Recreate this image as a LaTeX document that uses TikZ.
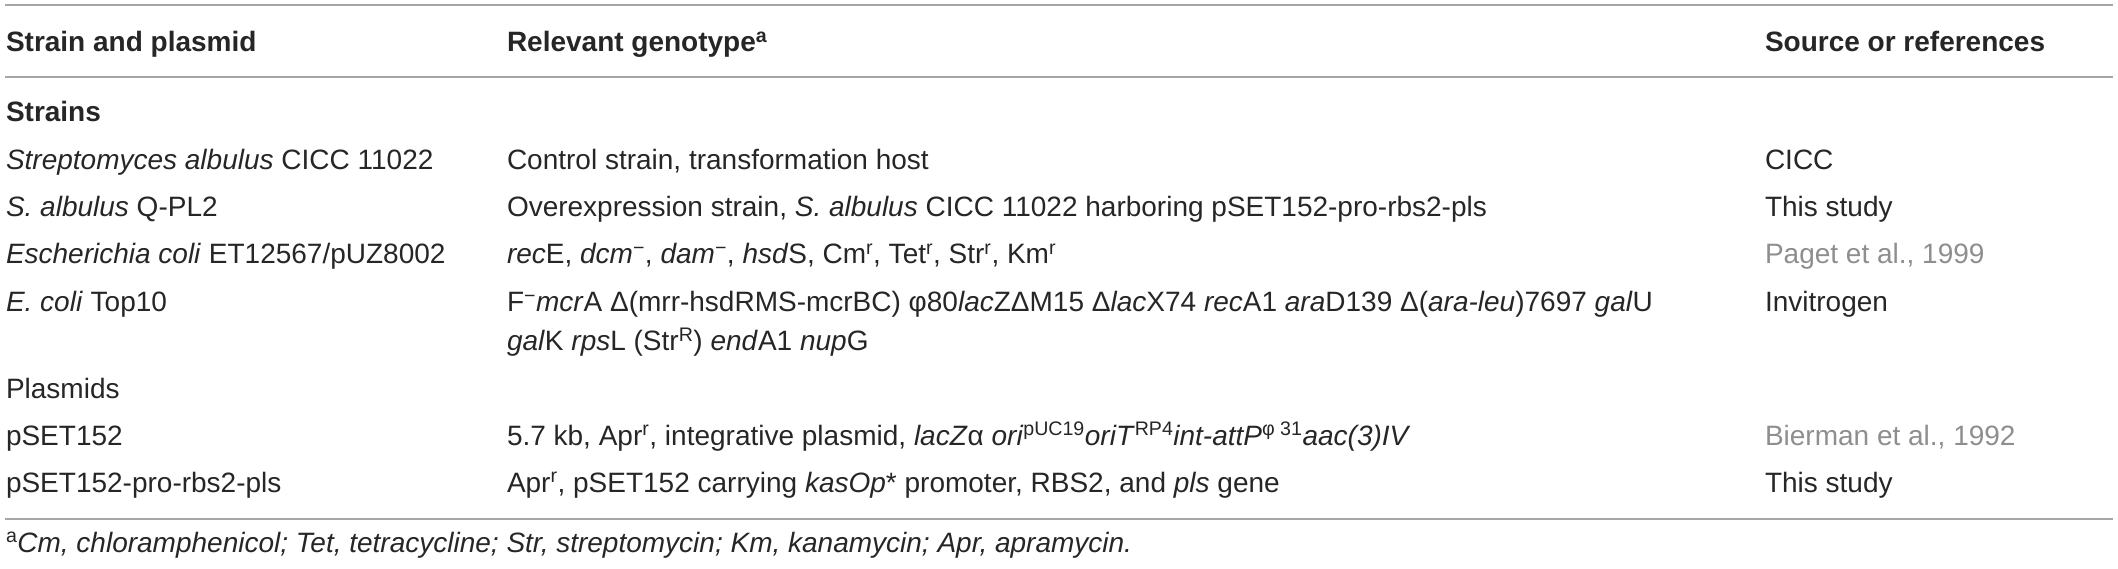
\documentclass[tikz,border=0pt]{standalone}
\usepackage{fontspec}
\setmainfont{Liberation Sans}
\definecolor{txtc}{HTML}{262626}
\definecolor{citec}{HTML}{8E8E8E}
\definecolor{rulec}{HTML}{A6A6A6}
\newcommand\sps[1]{\textsuperscript{#1}}
\newcommand\mns{\textsuperscript{−}}
\begin{document}
\begin{tikzpicture}[x=1pt,y=-1pt,
  every node/.style={inner sep=0pt, outer sep=0pt, anchor=base west, text=txtc,
    font=\fontsize{28}{33}\selectfont},
  head/.style={font=\fontsize{28}{33}\selectfont\bfseries},
  citetext/.style={text=citec},
  foot/.style={font=\fontsize{28}{33}\selectfont\itshape},
  hrule/.style={draw=rulec, line width=2pt}]
\useasboundingbox (0,0) rectangle (2118,569);
% rules
\coordinate (r1a) at (5,5.5);  \coordinate (r1b) at (2113,5.5);
\coordinate (r2a) at (5,77);   \coordinate (r2b) at (2113,77);
\coordinate (r3a) at (5,519);  \coordinate (r3b) at (2113,519);
\draw[hrule] (r1a) -- (r1b);
\draw[hrule] (r2a) -- (r2b);
\draw[hrule] (r3a) -- (r3b);
% header
\node[head] (h1) at (6,52) {Strain and plasmid};
\node[head] (h2) at (507,52) {Relevant genotype\sps{a}};
\node[head] (h3) at (1765,52) {Source or references};
% strains
\node[head] (strains) at (6,122) {Strains};
\node (a1) at (6,170) {\textit{Streptomyces albulus} CICC 11022};
\node (a2) at (507,170) {Control strain, transformation host};
\node (a3) at (1765,170) {CICC};
\node (b1) at (6,217) {\textit{S. albulus} Q-PL2};
\node (b2) at (507,217) {Overexpression strain, \textit{S. albulus} CICC 11022 harboring pSET152-pro-rbs2-pls};
\node (b3) at (1765,217) {This study};
\node (c1) at (6,264) {\textit{Escherichia coli} ET12567/pUZ8002};
\node (c2) at (507,264) {\textit{rec}E, \textit{dcm}\mns, \textit{dam}\mns, \textit{hsd}S, Cm\sps{r}, Tet\sps{r}, Str\sps{r}, Km\sps{r}};
\node[citetext] (c3) at (1765,264) {Paget et al., 1999};
\node (d1) at (6,312) {\textit{E. coli} Top10};
\node (d2) at (507,312) {F\mns\textit{mcr}A Δ(mrr-hsdRMS-mcrBC) φ80\textit{lac}ZΔM15 Δ\textit{lac}X74 \textit{rec}A1 \textit{ara}D139 Δ(\textit{ara-leu})7697 \textit{gal}U};
\node (d2b) at (507,351) {\textit{gal}K \textit{rps}L (Str\sps{R}) \textit{end}A1 \textit{nup}G};
\node (d3) at (1765,312) {Invitrogen};
% plasmids
\node (plasmids) at (6,398) {Plasmids};
\node (e1) at (6,445) {pSET152};
\node (e2) at (507,445) {5.7 kb, Apr\sps{r}, integrative plasmid, \textit{lacZ}α \textit{ori}\sps{pUC19}\textit{oriT}\sps{RP4}\textit{int-attP}\sps{φ 31}\textit{aac(3)IV}};
\node[citetext] (e3) at (1765,445) {Bierman et al., 1992};
\node (f1) at (6,492) {pSET152-pro-rbs2-pls};
\node (f2) at (507,492) {Apr\sps{r}, pSET152 carrying \textit{kasOp}* promoter, RBS2, and \textit{pls} gene};
\node (f3) at (1765,492) {This study};
% footnote
\node[foot] (fn) at (6,552) {\sps{\upshape a}Cm, chloramphenicol; Tet, tetracycline; Str, streptomycin; Km, kanamycin; Apr, apramycin.};
\end{tikzpicture}
\end{document}
